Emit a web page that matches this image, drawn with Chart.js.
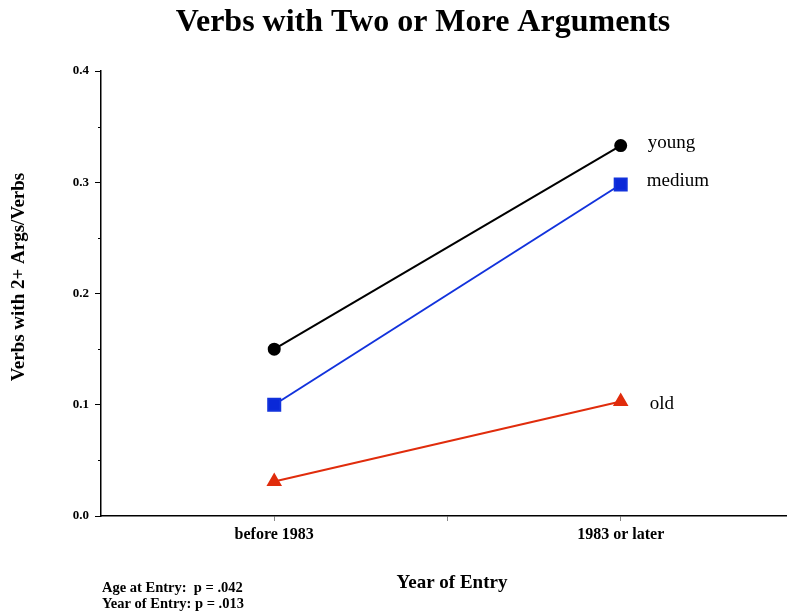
<!DOCTYPE html>
<html>
<head>
<meta charset="utf-8">
<script src="https://cdn.jsdelivr.net/npm/chart.js@4/dist/chart.umd.min.js"></script>
<style>
html,body{margin:0;padding:0;background:#fff;}
#wrap{width:787px;height:614px;position:relative;}
</style>
</head>
<body>
<div id="wrap"><canvas id="c" width="787" height="614"></canvas></div>
<script>
const categories = ['before 1983', '1983 or later'];
const seriesNames = ['young', 'medium', 'old'];
const young = [0.150, 0.333];
const medium = [0.100, 0.298];
const old = [0.031, 0.103];
const yTickValues = [0.0, 0.1, 0.2, 0.3, 0.4];
const chartTitle = 'Verbs with Two or More Arguments';
const yTitle = 'Verbs with 2+ Args/Verbs';
const xTitle = 'Year of Entry';
const footnotes = ['Age at Entry:  p = .042', 'Year of Entry: p = .013'];

const SERIF = '"Liberation Serif", "Times New Roman", serif';
const toPts = arr => arr.map((v, i) => ({x: i + 1, y: v}));

const textPlugin = {
  id: 'texts',
  afterDraw(chart) {
    const ctx = chart.ctx;
    const xs = chart.scales.x, ys = chart.scales.y;
    ctx.save();
    // minor y ticks
    ctx.strokeStyle = '#000';
    ctx.lineWidth = 1;
    for (let v = 0.05; v < 0.4; v += 0.1) {
      const py = Math.round(ys.getPixelForValue(v)) + 0.5;
      ctx.beginPath();
      ctx.moveTo(chart.chartArea.left - 3, py);
      ctx.lineTo(chart.chartArea.left, py);
      ctx.stroke();
    }
    ctx.fillStyle = '#000';
    // title
    ctx.font = 'bold 32px ' + SERIF;
    ctx.textAlign = 'center';
    ctx.textBaseline = 'alphabetic';
    ctx.fillText(chartTitle, 423, 31);
    ctx.textBaseline = 'middle';
    // x title
    ctx.font = 'bold 19px ' + SERIF;
    ctx.fillText(xTitle, 452, 583);
    // y title
    ctx.save();
    ctx.translate(19, 277);
    ctx.rotate(-Math.PI / 2);
    ctx.fillText(yTitle, 0, 0);
    ctx.restore();
    // footnotes
    ctx.font = 'bold 14.5px ' + SERIF;
    ctx.textAlign = 'left';
    ctx.fillText(footnotes[0], 102, 588);
    ctx.fillText(footnotes[1], 102, 604);
    // series labels
    ctx.font = '19px ' + SERIF;
    const series = [young, medium, old];
    const offs = [[27, -3], [26, -3], [29, 3]];
    series.forEach((s, i) => {
      const last = s.length - 1;
      const px = xs.getPixelForValue(last + 1);
      const py = ys.getPixelForValue(s[last]);
      ctx.fillText(seriesNames[i], px + offs[i][0], py + offs[i][1]);
    });
    ctx.restore();
  }
};

new Chart(document.getElementById('c'), {
  type: 'line',
  data: {
    datasets: [
      {label: seriesNames[0], data: toPts(young), borderColor: '#000', backgroundColor: '#000',
       borderWidth: 2, pointStyle: 'circle', pointRadius: 5.5, pointHoverRadius: 5.5},
      {label: seriesNames[1], data: toPts(medium), borderColor: '#1232dc', backgroundColor: '#0a28d8',
       borderWidth: 2, pointStyle: 'rect', pointRadius: 8.5, pointHoverRadius: 8.5},
      {label: seriesNames[2], data: toPts(old), borderColor: '#e02c0c', backgroundColor: '#e02c0c',
       borderWidth: 2, pointStyle: 'triangle', pointRadius: 7, pointHoverRadius: 7}
    ]
  },
  options: {
    responsive: false,
    animation: false,
    events: [],
    layout: {autoPadding: false, padding: {top: 71, right: 0, left: 0, bottom: 0}},
    plugins: {legend: {display: false}, tooltip: {enabled: false}, title: {display: false}},
    scales: {
      x: {
        type: 'linear', min: 0.5, max: 2.48,
        afterBuildTicks: s => { s.ticks = [{value: 1}, {value: 1.5}, {value: 2}]; },
        afterFit: s => { s.height = 98; s.paddingLeft = 0; s.paddingRight = 0; },
        border: {color: '#000', width: 1.5},
        grid: {drawOnChartArea: false, drawTicks: true, tickLength: 5, color: '#888'},
        ticks: {
          autoSkip: false, maxRotation: 0, padding: 4, color: '#000',
          font: {family: SERIF, size: 16, weight: 'bold'},
          callback: v => (Number.isInteger(v) ? categories[v - 1] : '')
        }
      },
      y: {
        type: 'linear', min: 0, max: 0.4,
        afterBuildTicks: s => { s.ticks = yTickValues.map(v => ({value: v})); },
        afterFit: s => { s.width = 101; s.paddingTop = 0; s.paddingBottom = 0; },
        border: {color: '#000', width: 1.5},
        grid: {drawOnChartArea: false, drawTicks: true, tickLength: 6, color: '#000'},
        ticks: {
          padding: 6, color: '#000',
          font: {family: SERIF, size: 13, weight: 'bold'},
          callback: v => v.toFixed(1)
        }
      }
    }
  },
  plugins: [textPlugin]
});
</script>
</body>
</html>
